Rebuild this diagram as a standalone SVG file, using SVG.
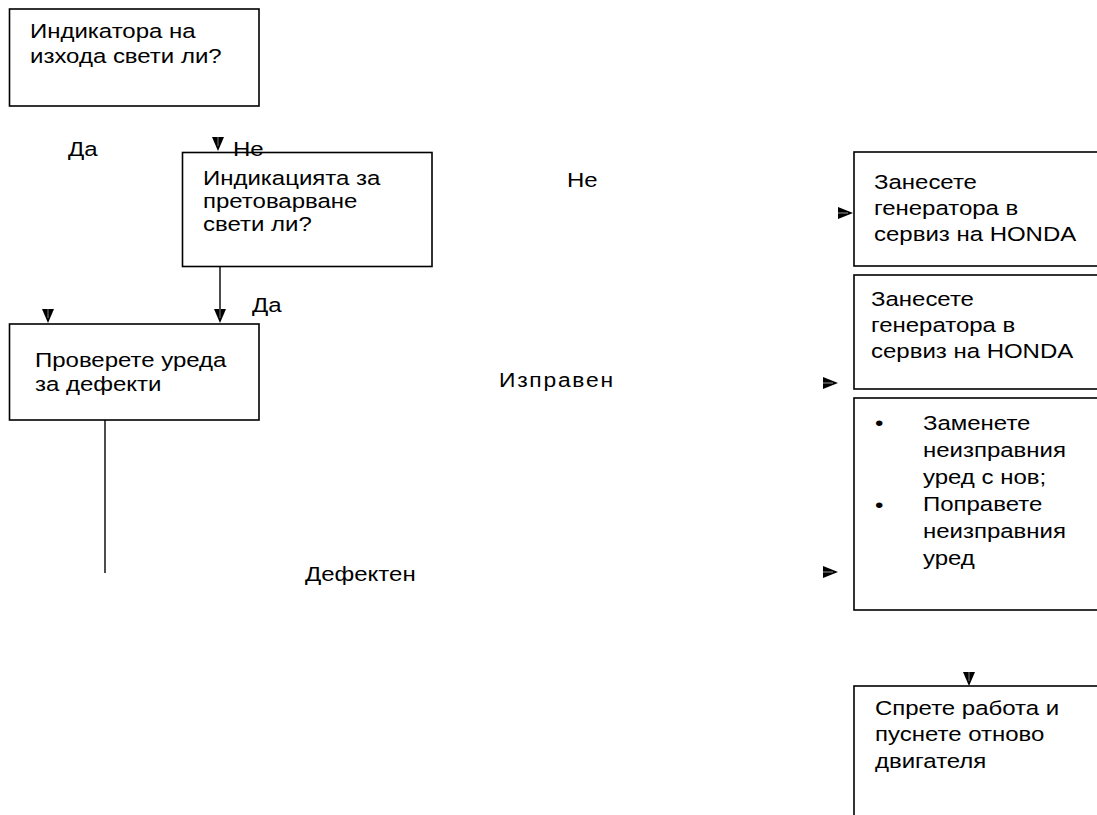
<svg xmlns="http://www.w3.org/2000/svg" width="1097" height="815" viewBox="0 0 1097 815">
  <defs>
    <style>
      .box { fill: none; stroke: #000; stroke-width: 1.6; }
      .t { font-family: "Liberation Sans", Arial, sans-serif; font-size: 20.5px; fill: #000; }
      .ln { stroke: #000; stroke-width: 1.4; fill: none; }
    </style>
    <!-- arrowheads, tip at the origin -->
    <g id="ah-down">
      <path d="M0,0 L-6,-14 L6,-14 Z" fill="#000"/>
      <path d="M0,-5 L0,-14" stroke="#fff" stroke-width="0.5"/>
    </g>
    <g id="ah-right">
      <path d="M0,0 L-15,-6 L-15,6 Z" fill="#000"/>
      <path d="M-5,0 L-15,0" stroke="#fff" stroke-width="0.6"/>
    </g>
  </defs>

  <rect width="1097" height="815" fill="#fff"/>

  <!-- connectors and branch labels -->
  <g id="connectors">
    <line class="ln" x1="220" y1="266" x2="220" y2="310"/>
    <use href="#ah-down" x="220" y="323"/>
    <use href="#ah-down" x="48" y="323"/>
    <use href="#ah-down" x="218" y="151"/>
    <line class="ln" x1="105" y1="420" x2="105" y2="573"/>
    <use href="#ah-right" x="853" y="213"/>
    <use href="#ah-right" x="838" y="383"/>
    <use href="#ah-right" x="838" y="572"/>
    <use href="#ah-down" x="969" y="686"/>

    <text class="t" transform="matrix(1.17 0 0 1 68 156)">Да</text>
    <text class="t" transform="matrix(1.17 0 0 1 233 156)">Не</text>
    <text class="t" transform="matrix(1.17 0 0 1 252 312)">Да</text>
    <text class="t" transform="matrix(1.17 0 0 1 567 187)">Не</text>
    <text class="t" style="font-size:19.5px;letter-spacing:1.5px" transform="matrix(1.17 0 0 1 499 387)">Изправен</text>
    <text class="t" transform="matrix(1.17 0 0 1 305 581)">Дефектен</text>
  </g>

  <g id="n-output">
    <rect class="box" x="9.5" y="9" width="249.5" height="97"/>
    <text class="t" transform="matrix(1.17 0 0 1 30 37.5)"><tspan x="0">Индикатора на</tspan><tspan x="0" dy="26">изхода свети ли?</tspan></text>
  </g>

  <g id="n-overload">
    <rect class="box" x="182.5" y="152.5" width="249.5" height="114"/>
    <text class="t" transform="matrix(1.17 0 0 1 203 184.5)"><tspan x="0">Индикацията за</tspan><tspan x="0" dy="23.5">претоварване</tspan><tspan x="0" dy="23.5">свети ли?</tspan></text>
  </g>

  <g id="n-check">
    <rect class="box" x="9.5" y="324" width="249.5" height="96"/>
    <text class="t" transform="matrix(1.17 0 0 1 35 367)"><tspan x="0">Проверете уреда</tspan><tspan x="0" dy="24">за дефекти</tspan></text>
  </g>

  <g id="n-service1">
    <rect class="box" x="854" y="152" width="260" height="114"/>
    <text class="t" transform="matrix(1.17 0 0 1 874 189)"><tspan x="0">Занесете</tspan><tspan x="0" dy="26">генератора в</tspan><tspan x="0" dy="26">сервиз на HONDA</tspan></text>
  </g>

  <g id="n-service2">
    <rect class="box" x="854" y="275" width="260" height="114"/>
    <text class="t" transform="matrix(1.17 0 0 1 871 306)"><tspan x="0">Занесете</tspan><tspan x="0" dy="26">генератора в</tspan><tspan x="0" dy="26">сервиз на HONDA</tspan></text>
  </g>

  <g id="n-replace">
    <rect class="box" x="854" y="398" width="260" height="212"/>
    <text class="t" transform="matrix(1.17 0 0 1 875 430)">•</text>
    <text class="t" transform="matrix(1.17 0 0 1 875 512)">•</text>
    <text class="t" transform="matrix(1.17 0 0 1 923 430)"><tspan x="0">Заменете</tspan><tspan x="0" dy="27">неизправния</tspan><tspan x="0" dy="27">уред с нов;</tspan><tspan x="0" dy="27">Поправете</tspan><tspan x="0" dy="27">неизправния</tspan><tspan x="0" dy="27">уред</tspan></text>
  </g>

  <g id="n-restart">
    <rect class="box" x="854" y="686" width="260" height="150"/>
    <text class="t" transform="matrix(1.17 0 0 1 875 715)"><tspan x="0">Спрете работа и</tspan><tspan x="0" dy="26.5">пуснете отново</tspan><tspan x="0" dy="26.5">двигателя</tspan></text>
  </g>
</svg>
